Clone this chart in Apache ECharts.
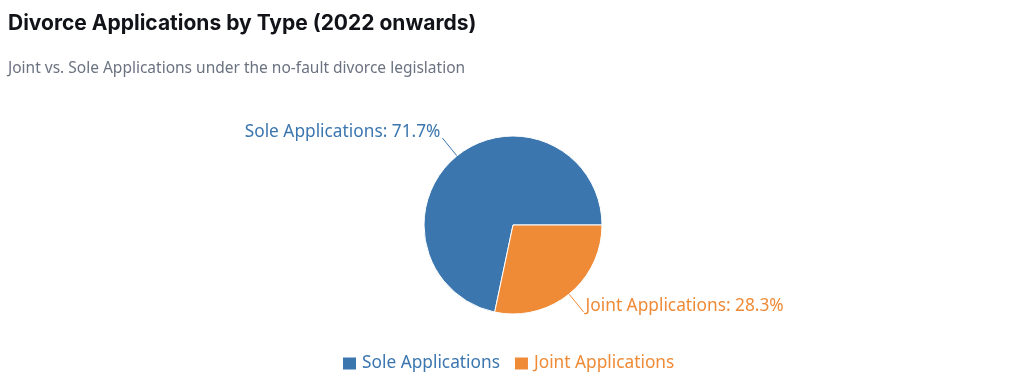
<!DOCTYPE html>
<html>
<head>
<meta charset="utf-8">
<script src="https://cdn.jsdelivr.net/npm/echarts@6/dist/echarts.min.js"></script>
<style>
html,body{margin:0;padding:0;background:#fff;}
#chart{width:1024px;height:385px;}
</style>
</head>
<body>
<div id="chart"></div>
<script>
const categories = ["Sole Applications", "Joint Applications"];
const values = [71.7, 28.3];
const colors = ["#3b76af", "#ef8a36"];
const titleText = "Divorce Applications by Type (2022 onwards)";
const subtitleText = "Joint vs. Sole Applications under the no-fault divorce legislation";

const chart = echarts.init(document.getElementById('chart'), null, {renderer: 'canvas'});
const FONT = "'Noto Sans', 'Liberation Sans', Arial, sans-serif";

chart.setOption({
  animation: false,
  backgroundColor: '#ffffff',
  title: [
    {text: titleText, left: 8, top: 13, padding: 0,
     textStyle: {fontFamily: "Inter, 'Liberation Sans', sans-serif", fontSize: 21, fontWeight: 'bold', color: '#111318'}},
    {text: subtitleText, left: 8, top: 61, padding: 0,
     textStyle: {fontFamily: FONT, fontSize: 15.5, fontWeight: 'normal', color: '#6b7280'}}
  ],
  legend: {
    top: 355,
    left: 341,
    padding: 0,
    icon: 'rect',
    itemWidth: 15,
    itemHeight: 14,
    itemGap: 13,
    data: categories.map((c, i) => ({name: c, textStyle: {color: colors[i]}})),
    textStyle: {fontFamily: FONT, fontSize: 17.3}
  },
  series: [{
    type: 'pie',
    center: [513, 225],
    radius: 89,
    startAngle: 0,
    clockwise: false,
    data: categories.map((c, i) => ({name: c, value: values[i], itemStyle: {color: colors[i]}})),
    itemStyle: {borderColor: '#ffffff', borderWidth: 1},
    label: {
      show: true,
      position: 'outside',
      formatter: p => p.name + ': ' + p.value + '%',
      color: 'inherit',
      fontFamily: FONT,
      fontSize: 17.3,
      offset: [0, -6],
      distanceToLabelLine: 2
    },
    labelLine: {show: true, length: 23, length2: 0, lineStyle: {width: 1}},
    emphasis: {disabled: true}
  }]
});
</script>
</body>
</html>
